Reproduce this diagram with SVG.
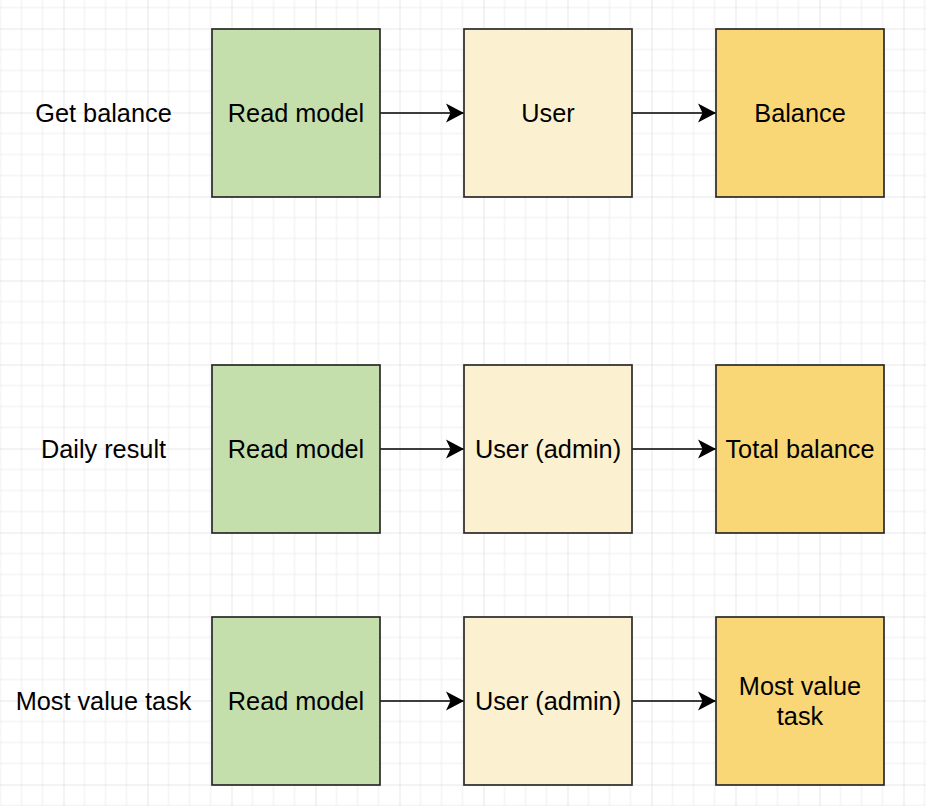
<svg xmlns="http://www.w3.org/2000/svg" width="926" height="806" viewBox="0 0 926 806">
  <style>
    .lbl { font-family: "Liberation Sans", Arial, Helvetica, sans-serif; font-size: 25.3px; fill: #000; text-anchor: middle; dominant-baseline: central; }
    .box { stroke: #2a2a2a; stroke-width: 1.7; }
    .rm { fill: #c4dfac; }
    .usr { fill: #fbf0cf; }
    .res { fill: #f9d776; }
    .edge { stroke: #000; stroke-width: 1.7; fill: none; marker-end: url(#arr); }
  </style>
  <defs>
    <pattern id="grid" x="63.5" y="28.5" width="84" height="84" patternUnits="userSpaceOnUse">
      <path d="M21 0V84M42 0V84M63 0V84M0 21H84M0 42H84M0 63H84" stroke="#ededed" stroke-width="1" fill="none"/>
      <path d="M0 0V84M0 0H84" stroke="#d0d0d0" stroke-width="1" fill="none"/>
    </pattern>
    <marker id="arr" viewBox="0 0 20 20" refX="18" refY="10" markerWidth="20" markerHeight="20" markerUnits="userSpaceOnUse" orient="auto">
      <path d="M0 0.5 L18 10 L0 19.5 L4.5 10 Z" fill="#000"/>
    </marker>
  </defs>
  <rect width="926" height="806" fill="#ffffff"/>
  <rect width="926" height="806" fill="url(#grid)"/>

  <g id="labels">
    <text class="lbl" x="103.5" y="113">Get balance</text>
    <text class="lbl" x="103.5" y="449">Daily result</text>
    <text class="lbl" x="103.5" y="701">Most value task</text>
  </g>

  <g id="connectors">
    <line class="edge" x1="380" y1="113" x2="464" y2="113"/>
    <line class="edge" x1="632" y1="113" x2="716" y2="113"/>
    <line class="edge" x1="380" y1="449" x2="464" y2="449"/>
    <line class="edge" x1="632" y1="449" x2="716" y2="449"/>
    <line class="edge" x1="380" y1="701" x2="464" y2="701"/>
    <line class="edge" x1="632" y1="701" x2="716" y2="701"/>
  </g>

  <g id="rm1"><rect class="box rm" x="212" y="29" width="168" height="168"/><text class="lbl" x="296" y="113">Read model</text></g>
  <g id="user1"><rect class="box usr" x="464" y="29" width="168" height="168"/><text class="lbl" x="548" y="113">User</text></g>
  <g id="bal1"><rect class="box res" x="716" y="29" width="168" height="168"/><text class="lbl" x="800" y="113">Balance</text></g>

  <g id="rm2"><rect class="box rm" x="212" y="365" width="168" height="168"/><text class="lbl" x="296" y="449">Read model</text></g>
  <g id="user2"><rect class="box usr" x="464" y="365" width="168" height="168"/><text class="lbl" x="548" y="449">User (admin)</text></g>
  <g id="bal2"><rect class="box res" x="716" y="365" width="168" height="168"/><text class="lbl" x="800" y="449">Total balance</text></g>

  <g id="rm3"><rect class="box rm" x="212" y="617" width="168" height="168"/><text class="lbl" x="296" y="701">Read model</text></g>
  <g id="user3"><rect class="box usr" x="464" y="617" width="168" height="168"/><text class="lbl" x="548" y="701">User (admin)</text></g>
  <g id="task3"><rect class="box res" x="716" y="617" width="168" height="168"/><text class="lbl" x="800" y="686">Most value</text><text class="lbl" x="800" y="716">task</text></g>
</svg>
